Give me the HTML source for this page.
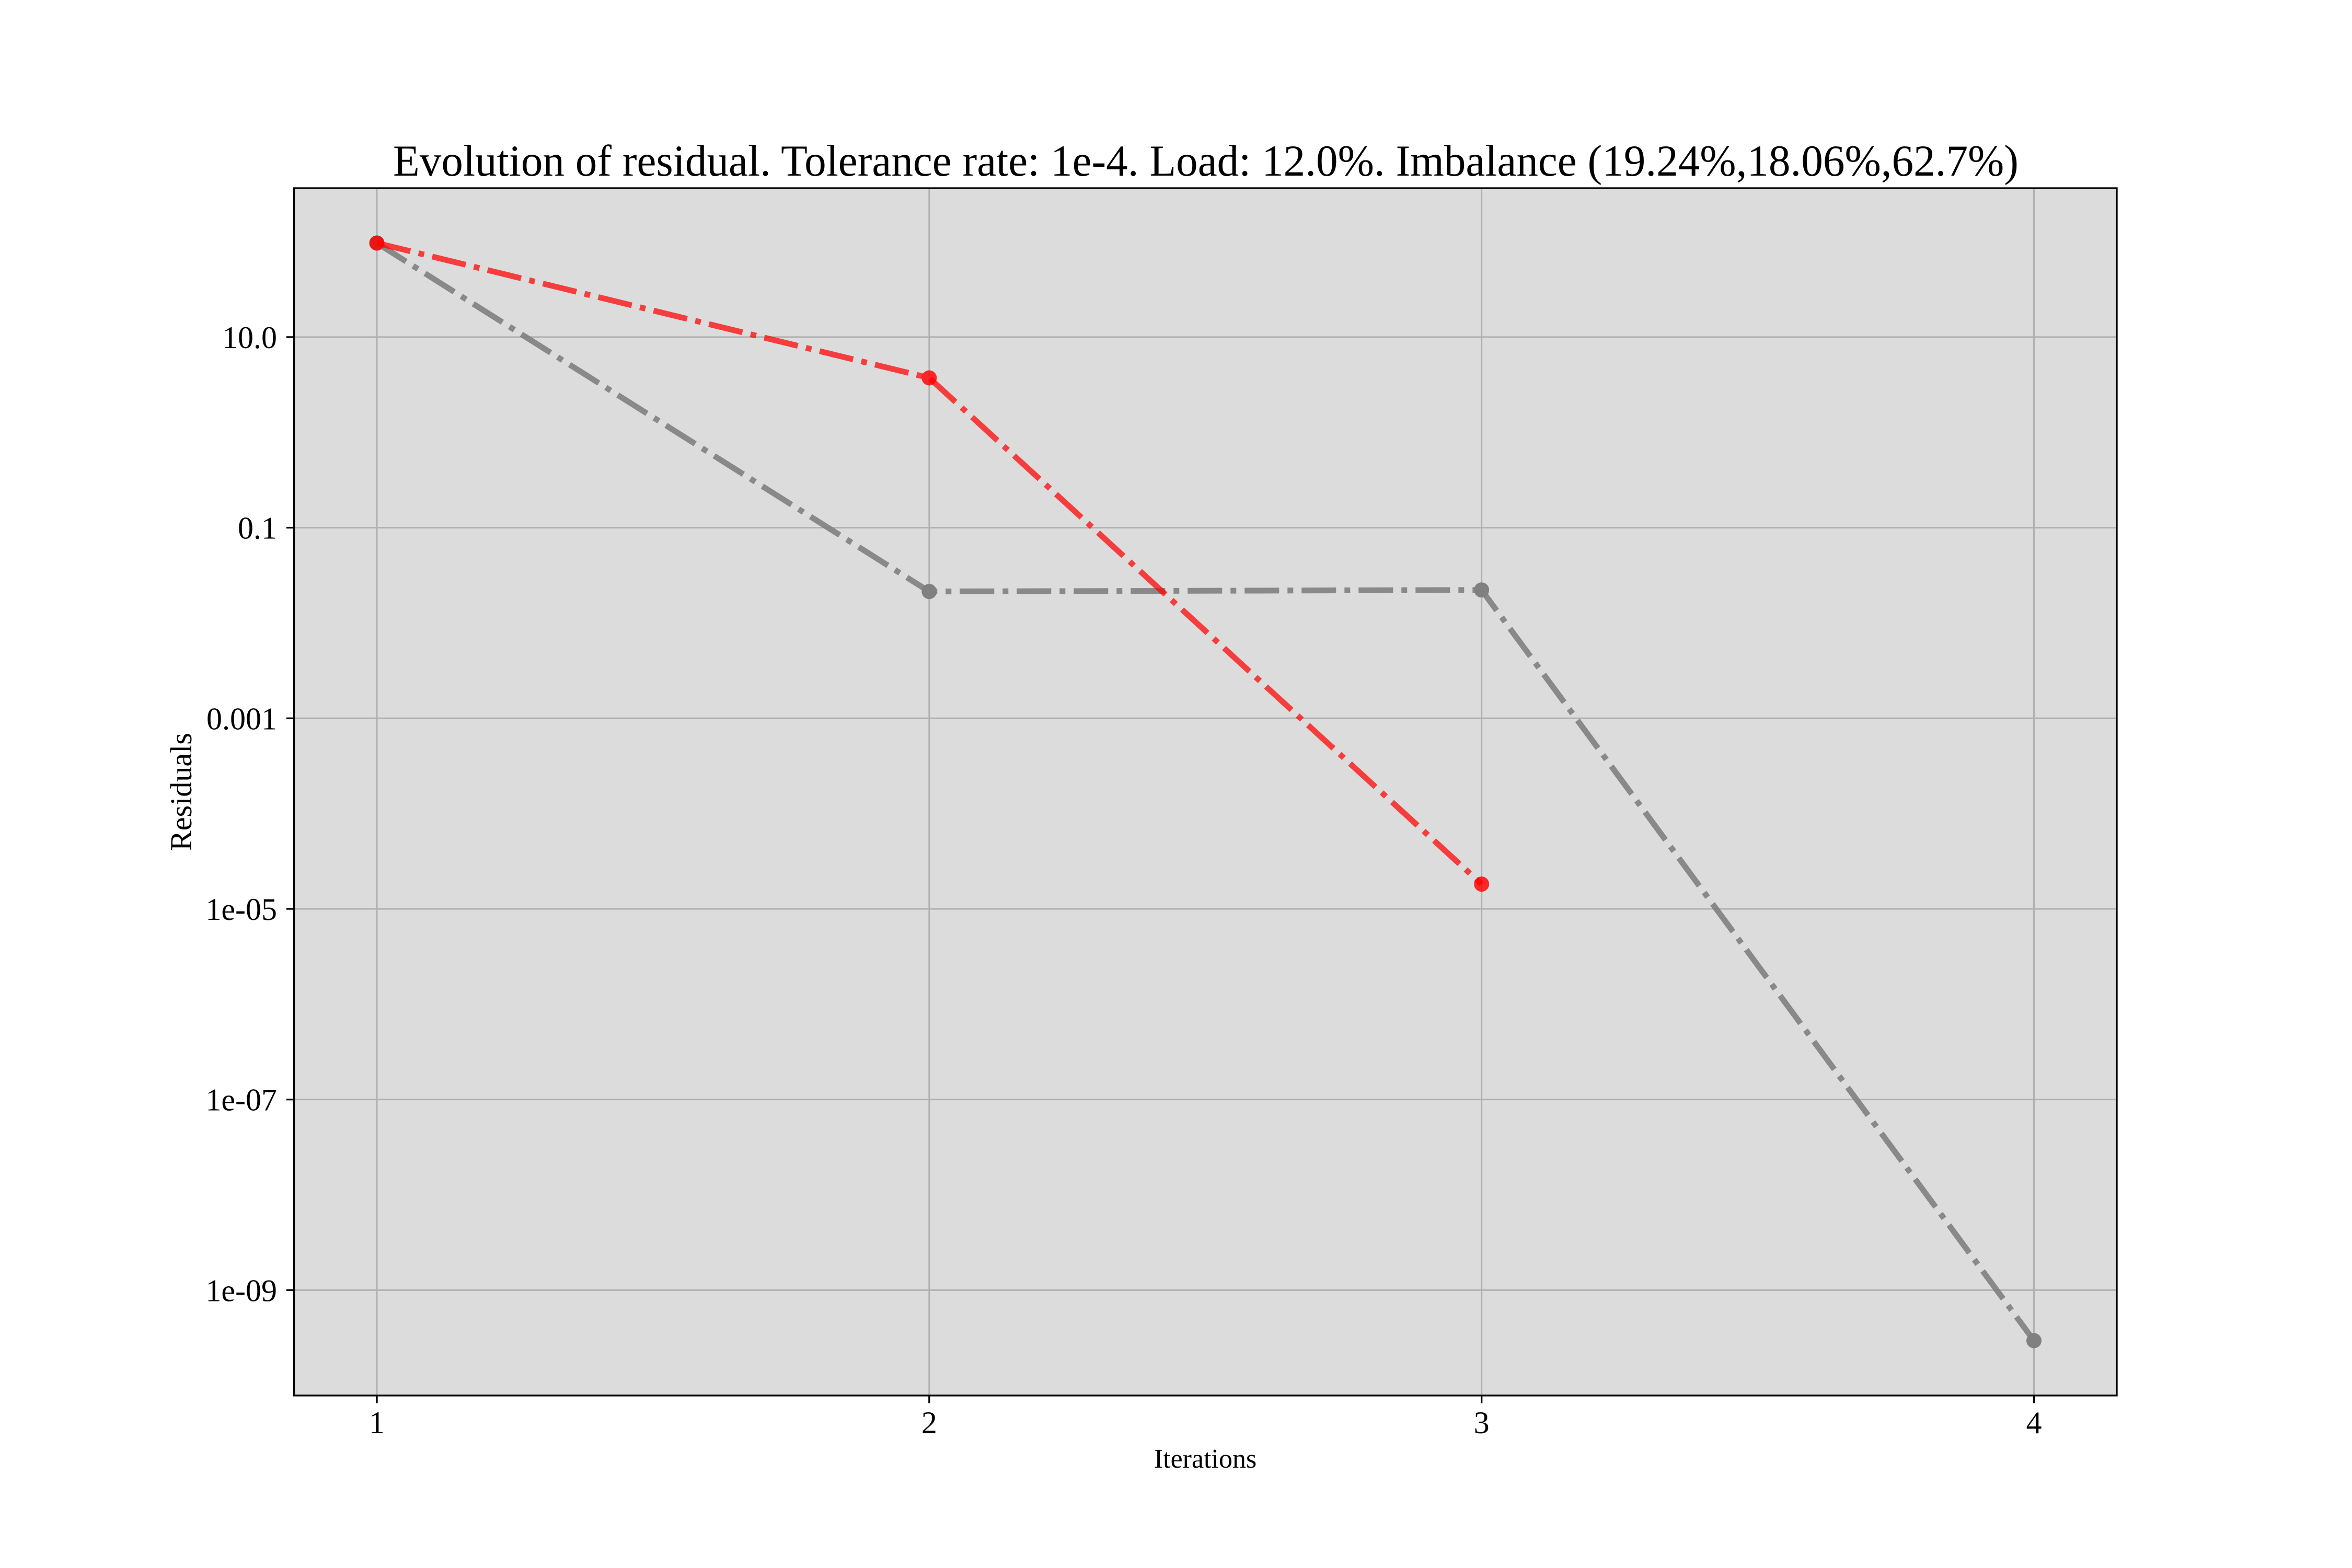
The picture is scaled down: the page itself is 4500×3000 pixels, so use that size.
<!DOCTYPE html>
<html><head><meta charset="utf-8"><style>html,body{margin:0;padding:0;background:#fff}svg{display:block}</style></head>
<body>
<svg id="chart" width="4500" height="3000" xmlns="http://www.w3.org/2000/svg" font-family="'Liberation Serif', serif">
<rect width="4500" height="3000" fill="#fff"/>
<text x="752" y="336" font-size="85" textLength="3110" lengthAdjust="spacingAndGlyphs">Evolution of residual. Tolerance rate: 1e-4. Load: 12.0%. Imbalance (19.24%,18.06%,62.7%)</text>
<g id="plot"></g>
<text x="2306" y="2808" font-size="52" text-anchor="middle">Iterations</text>
<text transform="translate(366,1515) rotate(-90)" font-size="58" text-anchor="middle">Residuals</text>
</svg>
<script>
const iterations = [1, 2, 3, 4];
const grayResiduals = [97, 0.0214, 0.0222, 2.95e-10];
const redResiduals = [97, 3.73, 1.82e-5];
const xTickValues = [1, 2, 3, 4];
const yTickExponents = [1, -1, -3, -5, -7, -9];
const yTickLabels = ["10.0", "0.1", "0.001", "1e-05", "1e-07", "1e-09"];

const NS = "http://www.w3.org/2000/svg";
const L = 562.5, R = 4050, T = 360, B = 2670;
const allLog = grayResiduals.concat(redResiduals).map(v => Math.log10(v));
const lmax = Math.max(...allLog), lmin = Math.min(...allLog);
const lm = (lmax - lmin) * 0.05;
const y0 = lmin - lm, y1 = lmax + lm;
const xmin = Math.min(...iterations), xmaxv = Math.max(...iterations);
const xm = (xmaxv - xmin) * 0.05;
const x0 = xmin - xm, x1 = xmaxv + xm;
function sx(v) { return L + (v - x0) / (x1 - x0) * (R - L); }
function sy(v) { return B - (Math.log10(v) - y0) / (y1 - y0) * (B - T); }
function mk(tag, attrs, parent) {
  const e = document.createElementNS(NS, tag);
  for (const k in attrs) e.setAttribute(k, attrs[k]);
  parent.appendChild(e);
  return e;
}
const g = document.getElementById("plot");
const bg = mk("rect", {x: L, y: T, width: R - L, height: B - T, fill: "#dcdcdc"}, g);


xTickValues.forEach(v => {
  const x = sx(v);
  const gl = mk("line", {x1: x, x2: x, y1: T, y2: B, stroke: "#b0b0b0", "stroke-width": 3}, g);
  
  
  const tk = mk("line", {x1: x, x2: x, y1: B, y2: B + 14.6, stroke: "#000", "stroke-width": 3.3}, g);
  
  
  const t = mk("text", {x: x, y: 2742, "font-size": 60, "text-anchor": "middle"}, g);
  t.textContent = String(v);
  
  
});
yTickExponents.forEach((e, i) => {
  const y = sy(Math.pow(10, e));
  const gl = mk("line", {x1: L, x2: R, y1: y, y2: y, stroke: "#b0b0b0", "stroke-width": 3}, g);
  
  
  const tk = mk("line", {x1: L - 14.6, x2: L, y1: y, y2: y, stroke: "#000", "stroke-width": 3.3}, g);
  
  
  const t = mk("text", {x: 530, y: y + 21, "font-size": 60, "text-anchor": "end"}, g);
  t.textContent = yTickLabels[i];
  
  
});
function series(vals, color, lineOpacity, name) {
  const pts = vals.map((v, i) => sx(iterations[i]) + "," + sy(v)).join(" ");
  const pl = mk("polyline", {points: pts, fill: "none", stroke: color, "stroke-opacity": lineOpacity, "stroke-width": 11, "stroke-dasharray": "66 16 11 16"}, g);
  
  
  vals.forEach((v, i) => {
    const c = mk("circle", {cx: sx(iterations[i]), cy: sy(v), r: 14.5, fill: color, "fill-opacity": lineOpacity + 0.1}, g);
    
    
  });
}
series(grayResiduals, "#808080", 0.9, "gray-series");
series(redResiduals, "#ff0000", 0.72, "red-series");
const fr = mk("rect", {x: L, y: T, width: R - L, height: B - T, fill: "none", stroke: "#000", "stroke-width": 3.3}, g);


</script>
</body></html>
